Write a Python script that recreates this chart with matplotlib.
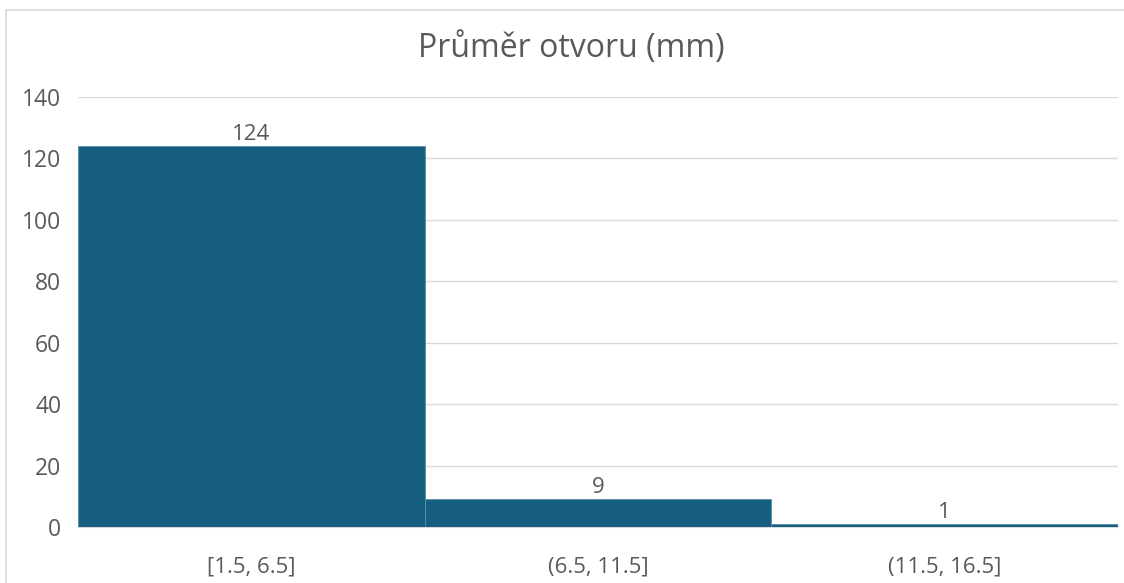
import matplotlib.pyplot as plt
from matplotlib.patches import Rectangle

plt.rcParams['font.family'] = ['Open Sans', 'DejaVu Sans']

bins = ["[1.5, 6.5]", "(6.5, 11.5]", "(11.5, 16.5]"]
counts = [124, 9, 1]
yticks = [0, 20, 40, 60, 80, 100, 120, 140]

text_color = '#595959'
bar_color = '#175f80'

fig = plt.figure(figsize=(11.24, 5.83), dpi=100)
# chart border like Excel
fig.patches.append(Rectangle((6 / 1124, -0.1), 1.2, 1 - 10 / 583 + 0.1,
                             transform=fig.transFigure, fill=False,
                             edgecolor='#d9d9d9', linewidth=1.2))

ax = fig.add_axes([78 / 1124, 56 / 583, 1040 / 1124, 430 / 583])
x = list(range(len(bins)))
ax.bar(x, counts, width=1.0, color=bar_color, edgecolor='#5a8fa8',
       linewidth=0.6, zorder=3)
for xi, c in zip(x, counts):
    ax.annotate(str(c), (xi, c), xytext=(0, 1), textcoords='offset points',
                ha='center', va='bottom', fontsize=16, color=text_color)

ax.set_xlim(-0.5, len(bins) - 0.5)
ax.set_ylim(0, 140)
ax.set_yticks(yticks)
ax.set_xticks(x)
ax.set_xticklabels(bins)
ax.tick_params(axis='both', length=0, labelcolor=text_color)
ax.tick_params(axis='x', pad=21, labelsize=16)
ax.tick_params(axis='y', pad=12, labelsize=16.5)
ax.grid(axis='y', color='#d9d9d9', linewidth=1.0, zorder=0)
for side in ['top', 'right', 'left']:
    ax.spines[side].set_visible(False)
ax.spines['bottom'].set_color('#d9d9d9')

fig.text(571 / 1124, 1 - 48 / 583, "Průměr otvoru (mm)", ha='center',
         va='center', fontsize=23, color=text_color)

fig.savefig('out.png', dpi=100)
